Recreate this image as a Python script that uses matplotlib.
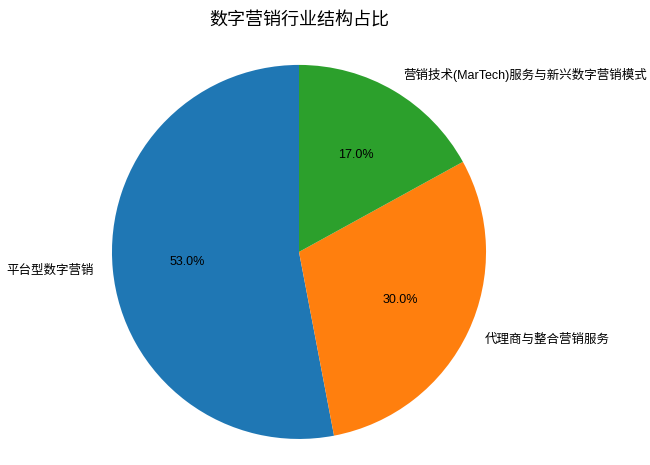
import matplotlib.pyplot as plt

plt.rcParams['font.family'] = ['Liberation Sans', 'Noto Sans CJK SC', 'DejaVu Sans']

labels = ['平台型数字营销', '代理商与整合营销服务', '营销技术(MarTech)服务与新兴数字营销模式']
shares = [53.0, 30.0, 17.0]
colors = ['#1f77b4', '#ff7f0e', '#2ca02c']

fig = plt.figure(figsize=(6.5, 4.65), dpi=100)
# pie centre around (299, 252) px, radius ~187 px
ax = fig.add_axes([0.1435, 0.0157, 0.633, 0.885])
ax.pie(shares, labels=labels, colors=colors, autopct='%1.1f%%', startangle=90,
       textprops={'fontsize': 9})
ax.set_xlim(-1.1, 1.1)
ax.set_ylim(-1.1, 1.1)
ax.set_aspect('equal')
ax.set_title('数字营销行业结构占比', fontsize=13, pad=15)
fig.savefig('out.png')
